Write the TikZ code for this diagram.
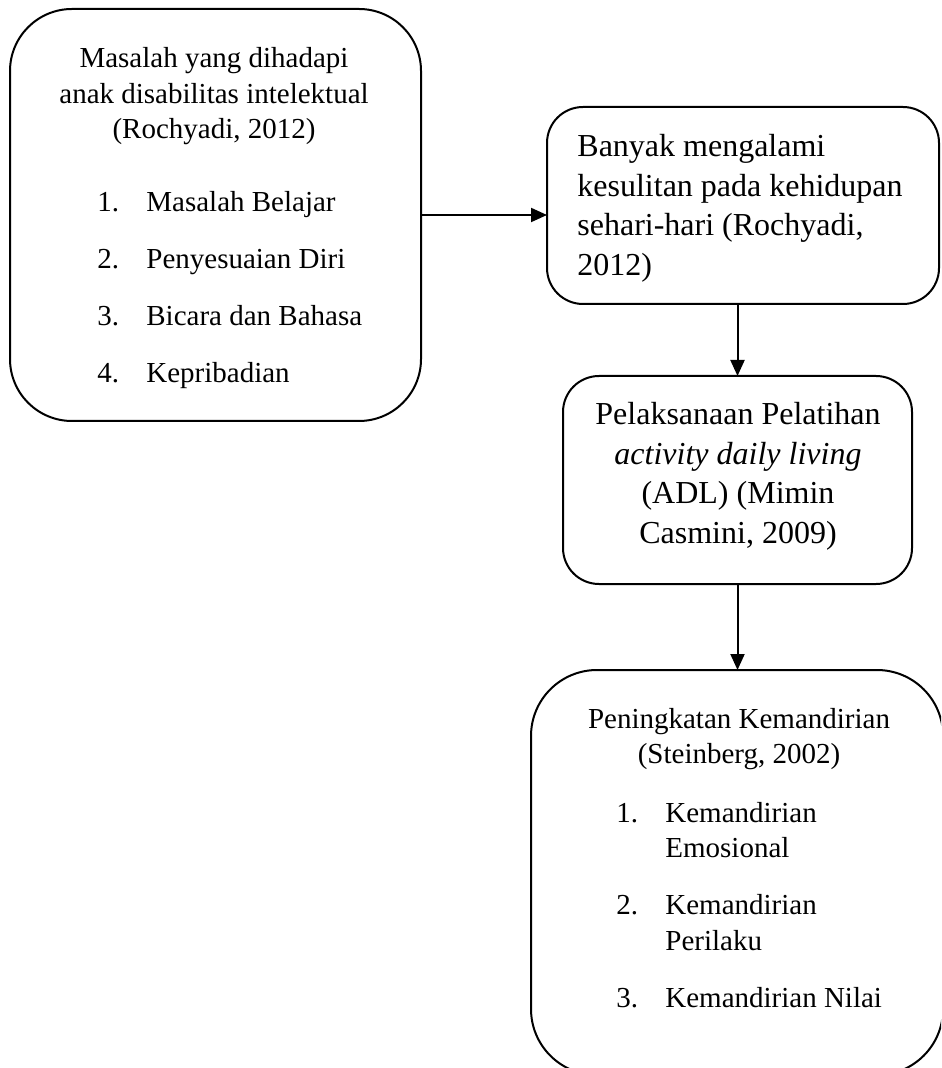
\documentclass[tikz,border=0pt]{standalone}
\usepackage{fontspec}
\setmainfont{Liberation Serif}
\usetikzlibrary{arrows.meta}
\newcommand{\numitem}[2]{\makebox[24.5pt][l]{#1}#2}
\newcommand{\smallfnt}{\fontsize{14.5}{17.75}\selectfont}
\newcommand{\bigfnt}{\fontsize{16}{19.75}\selectfont}

\begin{document}
\begin{tikzpicture}[x=0.5pt,y=-0.5pt,
  box/.style={draw,line width=1pt,inner sep=0pt,outer sep=0pt},
  txt/.style={inner sep=0pt,anchor=base},
  arr/.style={-{Triangle[length=8pt,width=7pt]},line width=1pt}]
\useasboundingbox (0,0) rectangle (941,1068);
\clip (0,0) rectangle (941,1068);
% boxes
\node[box,minimum width=205.5pt,minimum height=206pt,rounded corners=31pt]
   (masalah) at (215.5,215) {};
\node[box,minimum width=196pt,minimum height=98.5pt,rounded corners=18pt]
   (kesulitan) at (743,205.5) {};
\node[box,minimum width=174.5pt,minimum height=104pt,rounded corners=18pt]
   (pelatihan) at (737.5,480) {};
\node[box,minimum width=206pt,minimum height=202.5pt,rounded corners=33pt]
   (kemandirian) at (737,872.5) {};
% texts
\node[txt] (masalahtitle) at (214,68) {\smallfnt\begin{tabular}[t]{@{}c@{}}
   Masalah yang dihadapi\\anak disabilitas intelektual\\(Rochyadi, 2012)\end{tabular}};
\node[txt,anchor=base west] (masalahlist) at (97,212) {\smallfnt\begin{tabular}[t]{@{}l@{}}
   \numitem{1.}{Masalah Belajar}\\[10.75pt]
   \numitem{2.}{Penyesuaian Diri}\\[10.75pt]
   \numitem{3.}{Bicara dan Bahasa}\\[10.75pt]
   \numitem{4.}{Kepribadian}\end{tabular}};
\node[txt,anchor=base west] (kesulitantxt) at (577,157) {\bigfnt\begin{tabular}[t]{@{}l@{}}
   Banyak mengalami\\kesulitan pada kehidupan\\sehari-hari (Rochyadi,\\2012)\end{tabular}};
\node[txt] (pelatihantxt) at (738,425) {\bigfnt\begin{tabular}[t]{@{}c@{}}
   Pelaksanaan Pelatihan\\\textit{activity daily living}\\(ADL) (Mimin\\Casmini, 2009)\end{tabular}};
\node[txt] (kemandiriantitle) at (739,728) {\smallfnt\begin{tabular}[t]{@{}c@{}}
   Peningkatan Kemandirian\\(Steinberg, 2002)\end{tabular}};
\node[txt,anchor=base west] (kemandirianlist) at (616,822) {\smallfnt\begin{tabular}[t]{@{}l@{}}
   \numitem{1.}{Kemandirian}\\\numitem{}{Emosional}\\[10.75pt]
   \numitem{2.}{Kemandirian}\\\numitem{}{Perilaku}\\[10.75pt]
   \numitem{3.}{Kemandirian Nilai}\end{tabular}};
% arrows
\draw[arr] (masalah.east) -- (masalah.east -| kesulitan.west);
\draw[arr] (kesulitan.south -| pelatihan.north) -- (pelatihan.north);
\draw[arr] (pelatihan.south) -- (pelatihan.south |- kemandirian.north);
\end{tikzpicture}
\end{document}
